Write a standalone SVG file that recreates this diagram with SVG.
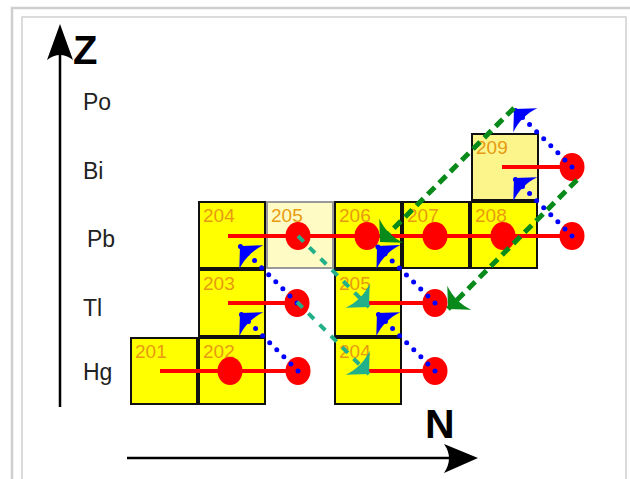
<svg xmlns="http://www.w3.org/2000/svg" width="630" height="479" viewBox="0 0 630 479">
<style>
.frame{fill:none;stroke:#cfcfcf}
.box{fill:#ffff00;stroke:#111;stroke-width:2}
.box.pale{fill:#fffbc4;stroke:#999}
.box.light{fill:#fbf58c}
.num{font-family:"Liberation Sans",Arial,sans-serif;font-size:19px;fill:#e89a10}
.el{font-family:"Liberation Sans",Arial,sans-serif;font-size:23px;fill:#222}
.ax{font-family:"Liberation Sans",Arial,sans-serif;font-weight:bold;fill:#000}
.red{stroke:#ff0000;stroke-width:4;fill:none}
.dot{fill:#ff0000}
.beta{stroke:#0000ff;stroke-width:5;stroke-linecap:round;stroke-dasharray:0 10;fill:none}
.alpha{stroke:#078a1a;stroke-width:5;stroke-dasharray:10 6;fill:none}
.ec{stroke:#22b08a;stroke-width:4;stroke-dasharray:8 8;fill:none}
</style>
<defs>
<marker id="mb" markerUnits="userSpaceOnUse" orient="auto" viewBox="-20 -20 24 40" markerWidth="24" markerHeight="40" refX="0" refY="0"><path d="M0,0 L-16,-17 C-12,-6 -12,6 -16,17 Z" fill="#0000ff"/></marker>
<marker id="mg" markerUnits="userSpaceOnUse" orient="auto" viewBox="-20 -20 24 40" markerWidth="24" markerHeight="40" refX="0" refY="0"><path d="M0,0 L-16,-17 C-12,-6 -12,6 -16,17 Z" fill="#078a1a"/></marker>
<marker id="mt" markerUnits="userSpaceOnUse" orient="auto" viewBox="-20 -20 24 40" markerWidth="24" markerHeight="40" refX="0" refY="0"><path d="M0,0 L-16,-17 C-12,-6 -12,6 -16,17 Z" fill="#22b08a"/></marker>
</defs>
<rect width="630" height="479" fill="#fff"/>
<rect class="frame" x="12" y="8" width="640" height="500" stroke-width="2.5"/>
<rect class="frame" x="22" y="17" width="604" height="490" stroke-width="1.5"/>

<g id="axes">
<line x1="60" y1="50" x2="60" y2="407" stroke="#000" stroke-width="2.5"/>
<path d="M60,24 L73,60 Q60,50 47,60 Z" fill="#000"/>
<text class="ax" x="73" y="64" font-size="40">Z</text>
<line x1="127" y1="458" x2="455" y2="458" stroke="#000" stroke-width="2.5"/>
<path d="M478,458 L444,444 Q454,458 444,473 Z" fill="#000"/>
<text class="ax" x="425" y="438" font-size="41">N</text>
<text class="el" x="83" y="110">Po</text>
<text class="el" x="83" y="179">Bi</text>
<text class="el" x="87" y="247">Pb</text>
<text class="el" x="83" y="316">Tl</text>
<text class="el" x="83" y="380">Hg</text>
</g>

<g id="hg201"><rect class="box" x="131" y="338" width="66" height="66"/><text class="num" x="135" y="358">201</text></g>
<g id="hg202"><rect class="box" x="199" y="338" width="66" height="66"/><text class="num" x="203" y="358">202</text></g>
<g id="hg204"><rect class="box" x="335" y="338" width="66" height="66"/><text class="num" x="339" y="358">204</text></g>
<g id="tl203"><rect class="box" x="199" y="270" width="66" height="66"/><text class="num" x="203" y="290">203</text></g>
<g id="tl205"><rect class="box" x="335" y="270" width="66" height="66"/><text class="num" x="339" y="290">205</text></g>
<g id="pb204"><rect class="box" x="199" y="202" width="66" height="66"/><text class="num" x="203" y="222">204</text></g>
<g id="pb205"><rect class="box pale" x="267" y="202" width="66" height="66"/><text class="num" x="271" y="222">205</text></g>
<g id="pb206"><rect class="box" x="335" y="202" width="66" height="66"/><text class="num" x="339" y="222">206</text></g>
<g id="pb207"><rect class="box" x="403" y="202" width="66" height="66"/><text class="num" x="407" y="222">207</text></g>
<g id="pb208"><rect class="box" x="471" y="202" width="66" height="66"/><text class="num" x="475" y="222">208</text></g>
<g id="bi209"><rect class="box light" x="472" y="134" width="66" height="66"/><text class="num" x="476" y="154">209</text></g>

<g id="connectors">
<g id="captures">
<line class="red" x1="160" y1="371" x2="298" y2="371"/>
<line class="red" x1="368" y1="371" x2="435" y2="371"/>
<line class="red" x1="228" y1="303" x2="297" y2="303"/>
<line class="red" x1="368" y1="303" x2="435" y2="303"/>
<line class="red" x1="228" y1="236" x2="572" y2="236"/>
<line class="red" x1="502" y1="167" x2="572" y2="167"/>
<ellipse class="dot" cx="230" cy="371" rx="12.5" ry="14"/>
<ellipse class="dot" cx="298" cy="371" rx="12.5" ry="14"/>
<ellipse class="dot" cx="435" cy="371" rx="12.5" ry="14"/>
<ellipse class="dot" cx="297" cy="303" rx="12.5" ry="14"/>
<ellipse class="dot" cx="435" cy="303" rx="12.5" ry="14"/>
<ellipse class="dot" cx="298" cy="236" rx="12.5" ry="14"/>
<ellipse class="dot" cx="367" cy="236" rx="12.5" ry="14"/>
<ellipse class="dot" cx="435" cy="236" rx="12.5" ry="14"/>
<ellipse class="dot" cx="503" cy="236" rx="12.5" ry="14"/>
<ellipse class="dot" cx="572" cy="236" rx="12.5" ry="14"/>
<ellipse class="dot" cx="572" cy="167" rx="12.5" ry="14"/>
</g>
<g id="beta">
<line class="beta" x1="298" y1="371" x2="240" y2="313" marker-end="url(#mb)"/>
<line class="beta" x1="297" y1="303" x2="240" y2="246" marker-end="url(#mb)"/>
<line class="beta" x1="435" y1="371" x2="377" y2="313" marker-end="url(#mb)"/>
<line class="beta" x1="435" y1="303" x2="377" y2="246" marker-end="url(#mb)"/>
<line class="beta" x1="572" y1="236" x2="514" y2="178" marker-end="url(#mb)"/>
<line class="beta" x1="572" y1="167" x2="514" y2="109" marker-end="url(#mb)"/>
</g>
<g id="alpha">
<line class="alpha" x1="514" y1="108" x2="380" y2="242" marker-end="url(#mg)"/>
<line class="alpha" x1="577" y1="180" x2="448" y2="309" marker-end="url(#mg)"/>
</g>
<g id="ec">
<line class="ec" x1="298" y1="236" x2="369" y2="307" marker-end="url(#mt)"/>
<line class="ec" x1="297" y1="302" x2="369" y2="374" marker-end="url(#mt)"/>
</g>
</g>
</svg>
